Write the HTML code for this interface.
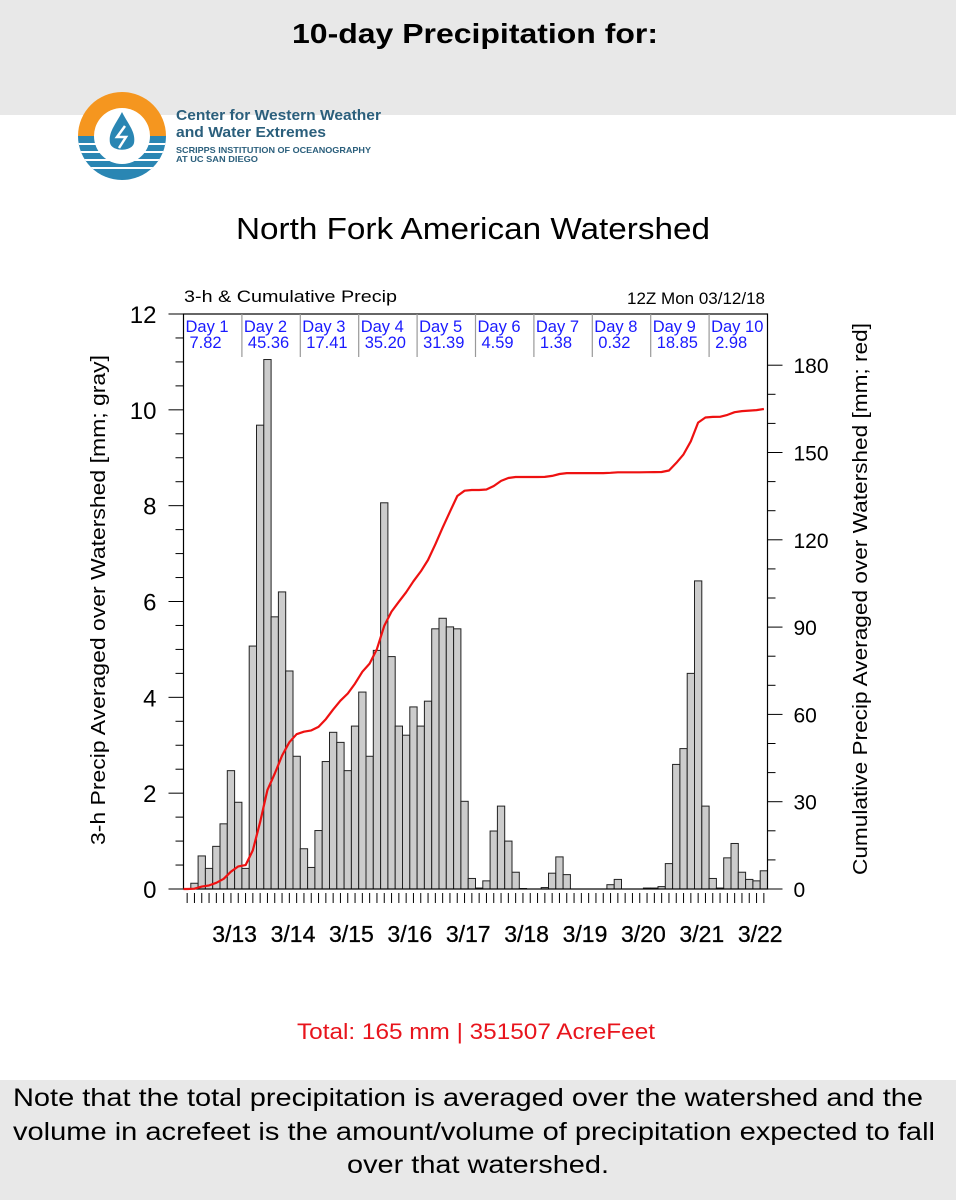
<!DOCTYPE html>
<html><head><meta charset="utf-8"><style>
html,body{margin:0;padding:0;background:#fff;}
svg{display:block;}
</style></head><body>
<svg id="c" width="956" height="1200" xmlns="http://www.w3.org/2000/svg" font-family="Liberation Sans, sans-serif">
<rect x="0" y="0" width="956" height="115" fill="#e8e8e8"/>
<text x="475" y="43" text-anchor="middle" font-size="28" font-weight="bold" fill="#000" textLength="366" lengthAdjust="spacingAndGlyphs">10-day Precipitation for:</text>
<g>
<clipPath id="lc"><circle cx="122" cy="136" r="44"/></clipPath>
<g clip-path="url(#lc)">
<rect x="78" y="92" width="88" height="44" fill="#f5961f"/>
<rect x="78" y="136" width="88" height="44" fill="#2a86b3"/>
<rect x="78" y="143" width="88" height="2" fill="#fff"/>
<rect x="78" y="151" width="88" height="2" fill="#fff"/>
<rect x="78" y="159" width="88" height="2" fill="#fff"/>
<rect x="78" y="167" width="88" height="2" fill="#fff"/>
</g>
<circle cx="122" cy="136" r="28" fill="#fff"/>
<path d="M122 112 C116 124 108 132 110 143 C112 152 132 152 134 143 C136 132 128 124 122 112Z" fill="#2a86b3"/>
<path d="M125 126 L117 137 L126 137 L119 148" stroke="#fff" stroke-width="2.5" fill="none"/>
</g>
<text x="176" y="120" font-size="15" font-weight="bold" fill="#2b5f7c" textLength="205" lengthAdjust="spacingAndGlyphs">Center for Western Weather</text>
<text x="176" y="137" font-size="15" font-weight="bold" fill="#2b5f7c" textLength="150" lengthAdjust="spacingAndGlyphs">and Water Extremes</text>
<text x="176" y="153" font-size="8.5" font-weight="bold" fill="#2b5f7c" textLength="195" lengthAdjust="spacingAndGlyphs">SCRIPPS INSTITUTION OF OCEANOGRAPHY</text>
<text x="176" y="162" font-size="8.5" font-weight="bold" fill="#2b5f7c" textLength="82" lengthAdjust="spacingAndGlyphs">AT UC SAN DIEGO</text>
<text x="473" y="239" text-anchor="middle" font-size="31" fill="#000" textLength="474" lengthAdjust="spacingAndGlyphs">North Fork American Watershed</text>
<text x="184" y="302" font-size="17" fill="#000" textLength="213" lengthAdjust="spacingAndGlyphs">3-h &amp; Cumulative Precip</text>
<text x="765" y="304" text-anchor="end" font-size="17" fill="#000">12Z Mon 03/12/18</text>
<text transform="translate(105,600) rotate(-90)" text-anchor="middle" font-size="20" fill="#000" textLength="490" lengthAdjust="spacingAndGlyphs">3-h Precip Averaged over Watershed [mm; gray]</text>
<text transform="translate(867,599) rotate(-90)" text-anchor="middle" font-size="20" fill="#000" textLength="552" lengthAdjust="spacingAndGlyphs">Cumulative Precip Averaged over Watershed [mm; red]</text>
<g id="plot"></g>
<text x="476" y="1039" text-anchor="middle" font-size="22" fill="#e8141c" textLength="358" lengthAdjust="spacingAndGlyphs">Total: 165 mm | 351507 AcreFeet</text>
<rect x="0" y="1080" width="956" height="120" fill="#e8e8e8"/>
<text x="468" y="1106" text-anchor="middle" font-size="25" fill="#000" textLength="910" lengthAdjust="spacingAndGlyphs">Note that the total precipitation is averaged over the watershed and the</text>
<text x="474" y="1140" text-anchor="middle" font-size="25" fill="#000" textLength="922" lengthAdjust="spacingAndGlyphs">volume in acrefeet is the amount/volume of precipitation expected to fall</text>
<text x="478" y="1173" text-anchor="middle" font-size="25" fill="#000" textLength="262" lengthAdjust="spacingAndGlyphs">over that watershed.</text>
</svg>
<script>
const precip3h = [0.0,0.12,0.69,0.43,0.89,1.36,2.47,1.81,0.43,5.07,9.68,11.05,5.68,6.2,4.55,2.77,0.84,0.45,1.22,2.66,3.27,3.06,2.47,3.4,4.11,2.77,4.98,8.06,4.85,3.4,3.21,3.8,3.4,3.92,5.43,5.65,5.47,5.43,1.83,0.22,0.02,0.17,1.21,1.73,1.0,0.35,0.01,0,0,0.03,0.33,0.67,0.3,0,0,0,0,0,0.09,0.2,0,0,0,0.02,0.02,0.05,0.53,2.6,2.93,4.5,6.43,1.73,0.22,0.02,0.65,0.95,0.35,0.2,0.17,0.38];
const dayNames = ["Day 1","Day 2","Day 3","Day 4","Day 5","Day 6","Day 7","Day 8","Day 9","Day 10"];
const dayTotals = ["7.82","45.36","17.41","35.20","31.39","4.59","1.38","0.32","18.85","2.98"];
const dateLabels = ["3/13","3/14","3/15","3/16","3/17","3/18","3/19","3/20","3/21","3/22"];
const leftTicks = [0,2,4,6,8,10,12];
const rightTicks = [0,30,60,90,120,150,180];

const NS="http://www.w3.org/2000/svg";
const g=document.getElementById('plot');
const X0=183.5,X1=767.5,Y0=889,YT=314;
const bw=(X1-X0)/precip3h.length;
const yL=v=>Y0-v*(Y0-YT)/12;
const yR=v=>Y0-v*2.91;
const xC=i=>X0+bw*(i+0.5);
function mk(t,a){const e=document.createElementNS(NS,t);for(const k in a)e.setAttribute(k,a[k]);g.appendChild(e);return e;}

for(let k=0;k<=24;k++){const y=yL(k/2);
 const e=mk('line',{x1:X0-(k%4==0?15:8),x2:X0,y1:y,y2:y,stroke:'#000','stroke-width':1});
 
 }
leftTicks.forEach(v=>{const t=mk('text',{x:X0-27,y:yL(v)+9,'text-anchor':'end','font-size':24});t.textContent=v;
 
 });
for(let v=0;v<=180;v+=10){const y=yR(v);
 const e=mk('line',{x1:X1,x2:X1+(v%30==0?15:8),y1:y,y2:y,stroke:'#000','stroke-width':1});
 
 }
rightTicks.forEach(v=>{const t=mk('text',{x:X1+26,y:yR(v)+8,'font-size':21});t.textContent=v;
 
 });

precip3h.forEach((v,i)=>{
 const b=mk('rect',{x:X0+bw*i,y:yL(v),width:bw,height:Y0-yL(v),fill:'#cccccc',stroke:'#222','stroke-width':1});
 
 
 const t=mk('line',{x1:xC(i),x2:xC(i),y1:Y0+4,y2:Y0+14,stroke:'#000','stroke-width':1});
 
 
});
const fr=mk('rect',{x:X0,y:YT,width:X1-X0,height:Y0-YT,fill:'none',stroke:'#000','stroke-width':1.2});



const perDay=precip3h.length/dayNames.length;
dayNames.forEach((d,k)=>{
 const xl=X0+bw*perDay*k;
 if(k>0){const l=mk('line',{x1:xl,x2:xl,y1:YT,y2:YT+43,stroke:'#999','stroke-width':1.2});
  
  }
 const t=mk('text',{x:xl+2,y:YT+18,'font-size':16.5,fill:'#1a1aff'});t.textContent=d;
 
 
 const t2=mk('text',{x:xl+6,y:YT+34,'font-size':16.5,fill:'#1a1aff'});t2.textContent=dayTotals[k];
 
 
 const t3=mk('text',{x:X0+bw*perDay*k+bw*7,y:942,'text-anchor':'middle','font-size':23,'stroke':'#000','stroke-width':0.3});t3.textContent=dateLabels[k];
 
 
});

let cum=0,pts=[];
precip3h.forEach((v,i)=>{cum+=v;pts.push(xC(i).toFixed(1)+','+yR(cum).toFixed(1));});
pts.unshift(X0+','+Y0);
const pl=mk('polyline',{points:pts.join(' '),fill:'none',stroke:'#ee1111','stroke-width':2.2,'stroke-linejoin':'round'});


</script>
</body></html>
